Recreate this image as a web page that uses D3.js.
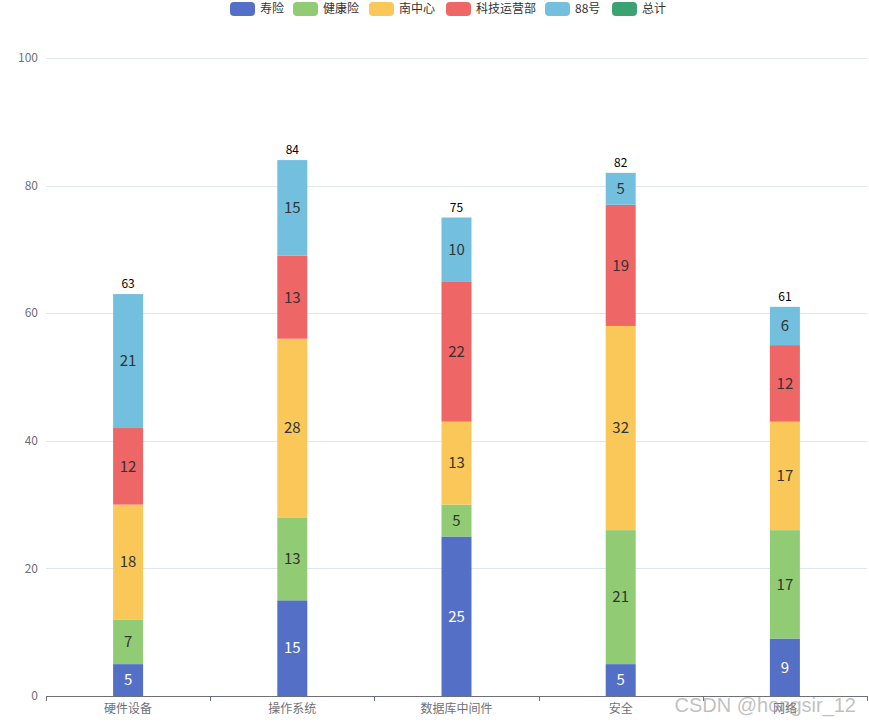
<!DOCTYPE html>
<html><head><meta charset="utf-8">
<script src="https://cdn.jsdelivr.net/npm/d3@7"></script>
<style>body{margin:0;background:#fff;}svg{display:block;font-family:"Microsoft YaHei","Noto Sans CJK SC",sans-serif;}</style>
</head><body><svg id="c" width="869" height="722"></svg>
<script>
const categories = ["硬件设备","操作系统","数据库中间件","安全","网络"];
const seriesNames = ["寿险","健康险","南中心","科技运营部","88号","总计"];
const colors = ["#5470c6","#91cc75","#fac858","#ee6666","#73c0de","#3ba272"];
const shouxian = [5,15,25,5,9];
const jiankangxian = [7,13,5,21,17];
const nanzhongxin = [18,28,13,32,17];
const keji = [12,13,22,19,12];
const hao88 = [21,15,10,5,6];
const totals = [63,84,75,82,61];
const yTicks = [0,20,40,60,80,100];

(function(){
const stackSeries = [shouxian, jiankangxian, nanzhongxin, keji, hao88];
const svg = d3.select("#c");
const mLeft = 46, mRight = 867, mTop = 58, mBottom = 696;
const x = d3.scaleBand().domain(categories).range([mLeft, mRight]);
const y = d3.scaleLinear().domain([0,100]).range([mBottom, mTop]);

svg.append("g").selectAll("line").data(yTicks.filter(d=>d>0)).join("line")
  .attr("x1",mLeft).attr("x2",mRight).attr("y1",d=>Math.round(y(d))+0.5).attr("y2",d=>Math.round(y(d))+0.5)
  .attr("stroke","#e0e6f1").attr("stroke-width",1);
svg.append("g").selectAll("text").data(yTicks).join("text")
  .attr("x",mLeft-8).attr("y",d=>y(d)).attr("dy","0.35em").attr("text-anchor","end")
  .attr("font-size",12).attr("fill","#6e7079").text(d=>d);

const barW = 30;
stackSeries.forEach((vals, si) => {
  const g = svg.append("g");
  vals.forEach((v, ci) => {
    let base = 0;
    for (let k = 0; k < si; k++) base += stackSeries[k][ci];
    const cx = x(categories[ci]) + x.bandwidth()/2;
    const y0 = y(base), y1 = y(base+v);
    g.append("rect").attr("x", cx-barW/2).attr("y", y1).attr("width", barW).attr("height", y0-y1)
      .attr("fill", colors[si]);
    g.append("text").attr("x", cx).attr("y", (y0+y1)/2).attr("dy","0.35em").attr("text-anchor","middle")
      .attr("font-size",15).attr("fill", si===0 ? "#fff" : "#333").text(v);
  });
});
svg.append("g").selectAll("text").data(totals).join("text")
  .attr("x",(d,i)=>x(categories[i])+x.bandwidth()/2).attr("y",d=>y(d)-6)
  .attr("text-anchor","middle").attr("font-size",12).attr("fill","#000").text(d=>d);

const ax = svg.append("g");
ax.append("line").attr("x1",mLeft).attr("x2",mRight).attr("y1",mBottom+0.5).attr("y2",mBottom+0.5).attr("stroke","#6e7079");
const tickPos = categories.map(c=>x(c)).concat([mRight]);
ax.selectAll("line.t").data(tickPos).join("line").attr("class","t")
  .attr("x1",d=>Math.round(d)+0.5).attr("x2",d=>Math.round(d)+0.5).attr("y1",mBottom).attr("y2",mBottom+5).attr("stroke","#6e7079");
ax.selectAll("text").data(categories).join("text")
  .attr("x",d=>x(d)+x.bandwidth()/2).attr("y",mBottom+17).attr("text-anchor","middle")
  .attr("font-size",12).attr("fill","#6e7079").text(d=>d);

const legendX = [230, 293, 369, 446, 545, 612];
const lg = svg.append("g");
seriesNames.forEach((n,i)=>{
  lg.append("rect").attr("x",legendX[i]).attr("y",2).attr("width",25).attr("height",14).attr("rx",4).attr("fill",colors[i]);
  lg.append("text").attr("x",legendX[i]+30).attr("y",9).attr("dy","0.35em").attr("font-size",12).attr("fill","#333").text(n);
});

svg.append("text").attr("x",856).attr("y",712).attr("text-anchor","end").attr("font-size",20)
  .attr("fill","rgba(150,150,150,0.6)").attr("font-family","Arial, sans-serif").text("CSDN @hongsir_12");
})();
</script></body></html>
